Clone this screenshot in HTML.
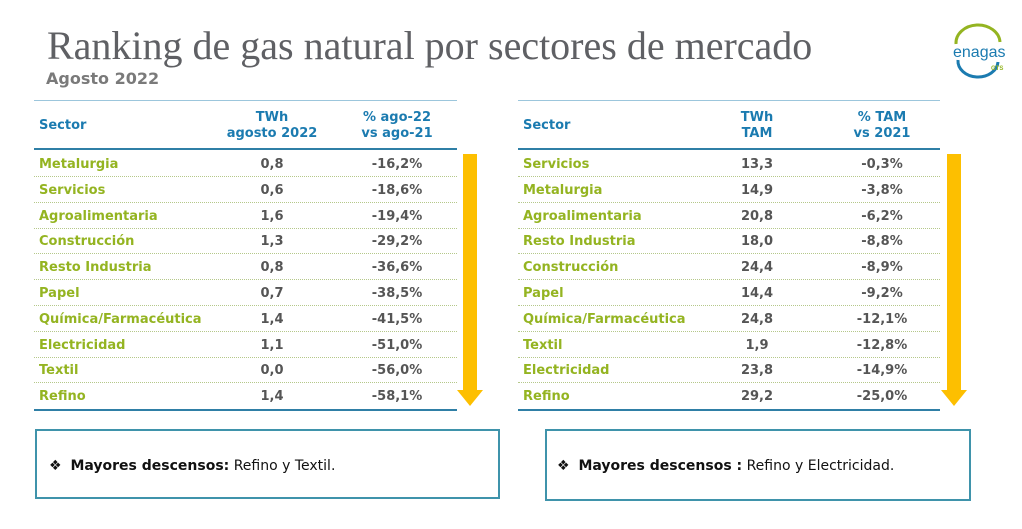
<!DOCTYPE html>
<html><head><meta charset="utf-8"><style>
body{margin:0;width:1022px;height:529px;background:#fff;position:relative;overflow:hidden;font-family:"DejaVu Sans","Liberation Sans",sans-serif}
.abs{position:absolute}
.title{left:47px;top:22px;font-family:"Liberation Serif",serif;font-size:40px;color:#5f6064;white-space:nowrap}
.sub{left:46px;top:69px;font-size:16px;font-weight:bold;color:#7a7a7a}
.hd{font-size:13px;font-weight:bold;color:#1b7bb0;text-align:center;line-height:16px;white-space:nowrap}
.cell{font-size:13px;font-weight:bold;white-space:nowrap;line-height:16px}
.sec{color:#94b421}
.num{color:#555;text-align:center;width:100px}
.box{border:2px solid #3f93ab;box-sizing:border-box;font-size:14px;color:#111}
</style></head><body>
<div class="abs title">Ranking de gas natural por sectores de mercado</div>
<div class="abs sub">Agosto 2022</div>
<svg class="abs" style="left:946px;top:22px" width="70" height="60">
<path d="M10 22 A22 18 0 0 1 54 20" fill="none" stroke="#94b421" stroke-width="3"/>
<path d="M12 38 A20 16 0 0 0 52 40" fill="none" stroke="#1b7bb0" stroke-width="3"/>
<text x="7" y="35" font-family="Liberation Sans,sans-serif" font-size="16" fill="#1b7bb0">enagas</text>
<text x="45" y="48" font-family="Liberation Sans,sans-serif" font-size="6" font-weight="bold" fill="#94b421">GTS</text>
</svg>
<div id="root"></div>
<div class="abs box" style="left:35px;top:429px;width:465px;height:70px"><div style="position:absolute;left:12px;top:27px">❖&nbsp; <b>Mayores descensos:</b> Refino y Textil.</div></div>
<div class="abs box" style="left:545px;top:429px;width:426px;height:72px"><div style="position:absolute;left:10px;top:27px">❖&nbsp; <b>Mayores descensos :</b> Refino y Electricidad.</div></div>
<script>
const leftSectors=["Metalurgia","Servicios","Agroalimentaria","Construcción","Resto Industria","Papel","Química/Farmacéutica","Electricidad","Textil","Refino"];
const leftTwh=["0,8","0,6","1,6","1,3","0,8","0,7","1,4","1,1","0,0","1,4"];
const leftPct=["-16,2%","-18,6%","-19,4%","-29,2%","-36,6%","-38,5%","-41,5%","-51,0%","-56,0%","-58,1%"];
const rightSectors=["Servicios","Metalurgia","Agroalimentaria","Resto Industria","Construcción","Papel","Química/Farmacéutica","Textil","Electricidad","Refino"];
const rightTwh=["13,3","14,9","20,8","18,0","24,4","14,4","24,8","1,9","23,8","29,2"];
const rightPct=["-0,3%","-3,8%","-6,2%","-8,8%","-8,9%","-9,2%","-12,1%","-12,8%","-14,9%","-25,0%"];
const root=document.getElementById('root');
function mk(cls,css,txt){const d=document.createElement('div');d.className='abs '+cls;d.style.cssText=css;if(txt!==undefined)d.textContent=txt;root.appendChild(d);return d;}
function table(x0,x1,c1,c2,h1,h2,sectors,twh,pct,ax,side){
  let e;
  e=mk('','left:'+x0+'px;top:100px;width:'+(x1-x0)+'px;height:1px;background:#9cc6dc');
  
  
  e=mk('hd','left:'+(x0+5)+'px;top:118px;text-align:left','Sector');
  
  
  e=mk('hd','left:'+(c1-70)+'px;top:110px;width:140px');e.innerHTML=h1;
  
  
  e=mk('hd','left:'+(c2-70)+'px;top:110px;width:140px');e.innerHTML=h2;
  
  
  e=mk('','left:'+x0+'px;top:148px;width:'+(x1-x0)+'px;height:2px;background:#2f7fa6');
  
  
  const pitch=25.8;
  sectors.forEach((s,i)=>{
    const y=157+i*pitch;
    let r=mk('cell sec','left:'+(x0+5)+'px;top:'+y+'px',s);
    
    
    r=mk('cell num','left:'+(c1-50)+'px;top:'+y+'px',twh[i]);
    
    
    r=mk('cell num','left:'+(c2-50)+'px;top:'+y+'px',pct[i]);
    
    
    const ly=Math.round(176+i*pitch);
    r=mk('',i==sectors.length-1?'left:'+x0+'px;top:'+(ly+1)+'px;width:'+(x1-x0)+'px;height:0;border-top:2px solid #2f7fa6':'left:'+x0+'px;top:'+ly+'px;width:'+(x1-x0)+'px;height:0;border-top:1px dotted #b5c88a');
    
    
  });
  const s=document.createElementNS('http://www.w3.org/2000/svg','svg');
  s.setAttribute('width','30');s.setAttribute('height','260');
  s.setAttribute('class','abs');s.style.left=(ax-15)+'px';s.style.top='154px';
  s.innerHTML='<rect x="8" y="0" width="14" height="238" fill="#fdbf00"/><polygon points="2,236 28,236 15,252" fill="#fdbf00"/>';
  
  
  root.appendChild(s);
}
table(34,457,272,397,'TWh<br>agosto 2022','% ago-22<br>vs ago-21',leftSectors,leftTwh,leftPct,470,'left');
table(518,940,757,882,'TWh<br>TAM','% TAM<br>vs 2021',rightSectors,rightTwh,rightPct,954,'right');
</script>
</body></html>
